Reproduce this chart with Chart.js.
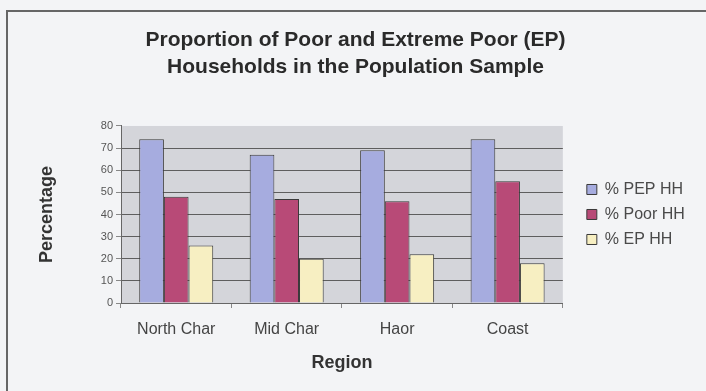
<!DOCTYPE html>
<html>
<head>
<meta charset="utf-8">
<script src="https://cdn.jsdelivr.net/npm/chart.js@4.4.1/dist/chart.umd.min.js"></script>
<style>
  html, body { margin: 0; padding: 0; background: #f3f4f6; }
  #wrap { position: relative; width: 706px; height: 391px; overflow: hidden; }
  #frame { position: absolute; left: 6px; top: 10px; width: 730px; height: 420px; border: 2px solid #666; box-sizing: border-box; }
  canvas { position: absolute; left: 0; top: 0; }
</style>
</head>
<body>
<div id="wrap">
  <div id="frame"></div>
  <canvas id="chart" width="706" height="391"></canvas>
</div>
<script>
// Data
const regions = ['North Char', 'Mid Char', 'Haor', 'Coast'];
const pepHH = [74, 67, 69, 74];
const poorHH = [48, 47, 46, 55];
const epHH = [26, 20, 22, 18];
const seriesNames = ['% PEP HH', '% Poor HH', '% EP HH'];
const titleLines = ['Proportion of Poor and Extreme Poor (EP)', 'Households in the Population Sample'];

const fontFamily = "'Liberation Sans', Arial, sans-serif";
Chart.defaults.font.family = fontFamily;

// Gray plot area behind the bars
const plotBackground = {
  id: 'plotBackground',
  beforeDraw(chart) {
    const { ctx, chartArea: a } = chart;
    ctx.save();
    ctx.fillStyle = '#d4d5da';
    ctx.fillRect(a.left, a.top, a.width, a.height);
    ctx.restore();
  }
};

new Chart(document.getElementById('chart'), {
  type: 'bar',
  data: {
    labels: regions,
    datasets: [
      { label: seriesNames[0], data: pepHH, backgroundColor: '#a6acdf' },
      { label: seriesNames[1], data: poorHH, backgroundColor: '#b84a77' },
      { label: seriesNames[2], data: epHH, backgroundColor: '#f7efc2' }
    ].map(d => ({
      ...d,
      borderColor: '#3a3a3a',
      borderWidth: 1,
      categoryPercentage: 0.67,
      barPercentage: 1.0
    }))
  },
  options: {
    responsive: false,
    animation: false,
    layout: { padding: { left: 22, right: 17, top: 0, bottom: 0 } },
    plugins: {
      title: {
        display: true,
        text: titleLines,
        color: '#2a2a2a',
        font: { size: 21, weight: 'bold', lineHeight: 1.29 },
        padding: { top: 26.5, bottom: 45.3 }
      },
      legend: {
        position: 'right',
        fullSize: false,
        labels: {
          boxWidth: 10,
          boxHeight: 10,
          padding: 9,
          color: '#4a4a4a',
          font: { size: 16 }
        }
      },
      tooltip: { enabled: false }
    },
    scales: {
      x: {
        grid: { drawOnChartArea: false, drawTicks: true, tickLength: 5, tickColor: '#888' },
        border: { color: '#666' },
        ticks: { color: '#444', font: { size: 16 }, padding: 12 },
        title: {
          display: true,
          text: 'Region',
          color: '#333',
          font: { size: 18, weight: 'bold' },
          padding: { top: 4, bottom: 17 }
        },
        afterFit(scale) { scale.height = 88; }
      },
      y: {
        min: 0,
        max: 80,
        ticks: { stepSize: 10, color: '#555', font: { size: 11 }, padding: 3 },
        grid: {
          color: ctx => (ctx.tick && ctx.tick.value === 80) ? 'rgba(0,0,0,0)' : '#5e5e5e',
          tickColor: '#888',
          tickLength: 5
        },
        border: { color: '#666' },
        title: {
          display: true,
          text: 'Percentage',
          color: '#333',
          font: { size: 18, weight: 'bold' },
          padding: { top: 14, bottom: 0 }
        },
        afterFit(scale) { scale.width = 99; }
      },
      // empty axis that only leaves a gap between plot and legend
      gap: {
        type: 'linear',
        position: 'right',
        grid: { display: false },
        border: { display: false },
        ticks: { display: false },
        afterFit(scale) { scale.width = 15; }
      }
    }
  },
  plugins: [plotBackground]
});
</script>
</body>
</html>
